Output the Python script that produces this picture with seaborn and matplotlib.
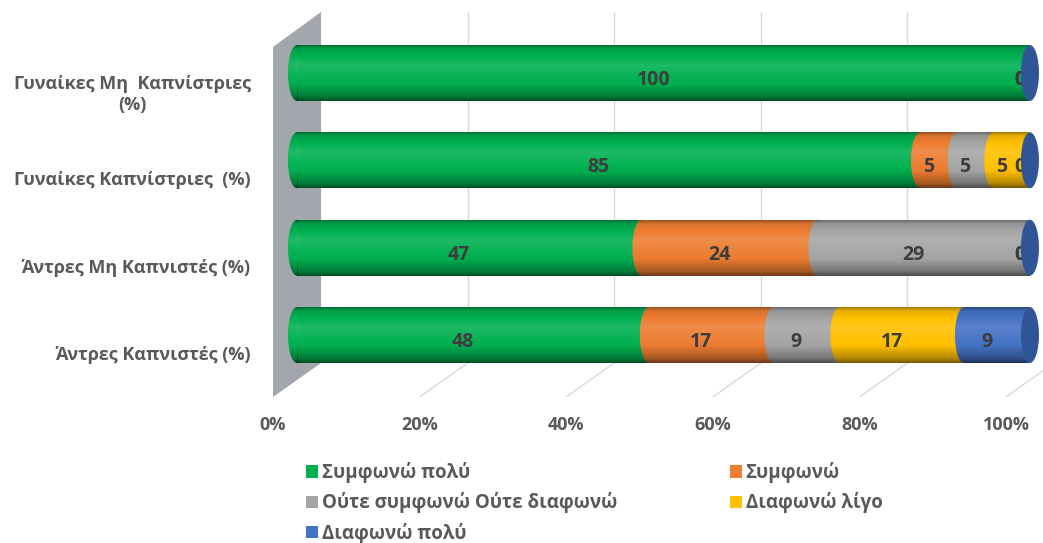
import numpy as np
import matplotlib
matplotlib.use("Agg")
import matplotlib.pyplot as plt
from matplotlib.patches import Ellipse, Polygon, Patch
from matplotlib.transforms import ScaledTranslation
import seaborn as sns

# ---- data -------------------------------------------------------------
categories = [
    "Γυναίκες Μη  Καπνίστριες\n(%)",
    "Γυναίκες Καπνίστριες  (%)",
    "Άντρες Μη Καπνιστές (%)",
    "Άντρες Καπνιστές (%)",
]
series_names = [
    "Συμφωνώ πολύ",
    "Συμφωνώ",
    "Ούτε συμφωνώ Ούτε διαφωνώ",
    "Διαφωνώ λίγο",
    "Διαφωνώ πολύ",
]
agree_strongly = [100, 85, 47, 48]
agree = [0, 5, 24, 17]
neutral = [0, 5, 29, 9]
disagree_little = [0, 5, 0, 17]
disagree_strongly = [0, 0, 0, 9]
series_values = [agree_strongly, agree, neutral, disagree_little, disagree_strongly]
x_ticks = [0, 20, 40, 60, 80, 100]
x_tick_labels = ["0%", "20%", "40%", "60%", "80%", "100%"]

colors = ["#00B050", "#ED7D31", "#A5A5A5", "#FFC000", "#4472C4"]
cap_color = "#2F5597"
text_grey = "#595959"
value_grey = "#3d3d3d"

sns.set_theme(style="white")
plt.rcParams["font.family"] = ["Open Sans", "DejaVu Sans"]

W, H = 1043, 543
fig = plt.figure(figsize=(W / 100, H / 100), dpi=100)
ax = fig.add_axes([273 / W, 1 - 397 / H, 770 / W, 385 / H])

XMIN, XMAX = -3.274, 101.78
YBOT, YTOP = 3.710, -0.698
depth = 3.274          # horizontal half-depth of the 3D box (data units)
bar_h = 0.64
cap_a = 1.23           # half-width of the elliptical end faces

# cumulative totals, drawn back-to-front so each stack segment shows
vals = np.array(series_values, dtype=float)
cum = np.cumsum(vals, axis=0)
starts = cum - vals
for i in reversed(range(len(series_names))):
    sns.barplot(x=cum[i], y=categories, orient="h", color=colors[i],
                saturation=1, width=bar_h, ax=ax, zorder=1.5,
                edgecolor="none", linewidth=0)

# back wall and gridlines of the 3D box
y_back_bot = 3.321
y_wall_top_front = -0.297
wall = Polygon([(-depth, y_wall_top_front), (depth, YTOP), (depth, y_back_bot),
                (-depth, YBOT)], closed=True, facecolor="#a3a6ac",
               edgecolor="none", zorder=1.4)
ax.add_patch(wall)
for t in x_ticks[1:]:
    ax.plot([t + depth, t + depth], [YTOP, y_back_bot], color="#d9d9d9",
            lw=1, zorder=1.41, solid_capstyle="butt")
    ax.plot([t + depth, t - depth], [y_back_bot, YBOT], color="#d9d9d9",
            lw=1, zorder=1.41, solid_capstyle="butt")

# cylinder shading: dark rim, highlight above centre, dark lower edge
n = 80
tt = np.linspace(0, 1, n)
prof = np.interp(tt, [0, 0.06, 0.35, 0.7, 0.92, 1.0],
                 [-0.35, -0.1, 0.12, -0.02, -0.3, -0.55])
shade = np.zeros((n, 1, 4))
shade[:, 0, :3] = np.where(prof[:, None] > 0, 1.0, 0.0)
shade[:, 0, 3] = np.abs(prof)

for r in range(len(categories)):
    c = r
    top, bot = c - bar_h / 2, c + bar_h / 2
    # segment boundaries: each segment's front face bulges into the previous
    for i in range(1, len(series_names)):
        if vals[i, r] > 0:
            ax.add_patch(Ellipse((starts[i, r], c), 2 * cap_a, bar_h,
                                 facecolor=colors[i], edgecolor="none", zorder=2))
    # left end of the cylinder
    left_cap = Ellipse((0, c), 2 * cap_a, bar_h, facecolor=colors[0],
                       edgecolor="none", zorder=2)
    ax.add_patch(left_cap)
    ax.imshow(shade, extent=(0, 100, bot, top), origin="upper",
              aspect="auto", zorder=3, interpolation="bilinear")
    im = ax.imshow(shade, extent=(-cap_a, 0, bot, top), origin="upper",
                   aspect="auto", zorder=3, interpolation="bilinear")
    im.set_clip_path(left_cap)
    # right end face
    end_cap = Ellipse((100, c), 2 * cap_a, bar_h, facecolor=cap_color,
                      edgecolor="none", zorder=5)
    ax.add_patch(end_cap)

# value labels
for i in range(len(series_names)):
    for r in range(len(categories)):
        ax.annotate(f"{int(vals[i, r])}", (starts[i, r] + vals[i, r] / 2, r),
                    xytext=(-10, -7), textcoords="offset pixels",
                    ha="center", va="center", fontsize=14, fontweight="bold",
                    color=value_grey, zorder=4)

ax.set_xlim(XMIN, XMAX)
ax.set_ylim(YBOT, YTOP)
ax.set_xticks(x_ticks)
ax.set_xticklabels(x_tick_labels)
ax.set_xlabel("")
ax.set_ylabel("")
ax.set_facecolor("none")
for s in ax.spines.values():
    s.set_visible(False)
ax.tick_params(axis="both", length=0)
ax.tick_params(axis="x", pad=14, labelsize=13, labelcolor=text_grey)
ax.tick_params(axis="y", pad=16, labelsize=13, labelcolor=text_grey)
for lab in ax.get_xticklabels():
    lab.set_fontweight("bold")
    lab.set_transform(lab.get_transform() + ScaledTranslation(-0.24, 0, fig.dpi_scale_trans))
for lab in ax.get_yticklabels():
    lab.set_fontweight("bold")
    lab.set_horizontalalignment("right")
    lab.set_multialignment("center")
    lab.set_transform(lab.get_transform() + ScaledTranslation(0, -0.18, fig.dpi_scale_trans))

# legend, two columns filled row by row
order = [0, 2, 4, 1, 3]
handles = [Patch(facecolor=colors[k], edgecolor="none") for k in order]
labels = [series_names[k] for k in order]
leg = fig.legend(handles, labels, ncol=2, loc="upper left",
                 bbox_to_anchor=(306 / W, 1 - 462 / H), frameon=False,
                 prop={"size": 13.5, "weight": "bold"},
                 handlelength=0.65, handleheight=0.65,
                 handletextpad=0.2, labelspacing=0.5, columnspacing=6.0,
                 borderaxespad=0, borderpad=0)
for txt in leg.get_texts():
    txt.set_color(text_grey)

fig.savefig("out.png", dpi=100)
